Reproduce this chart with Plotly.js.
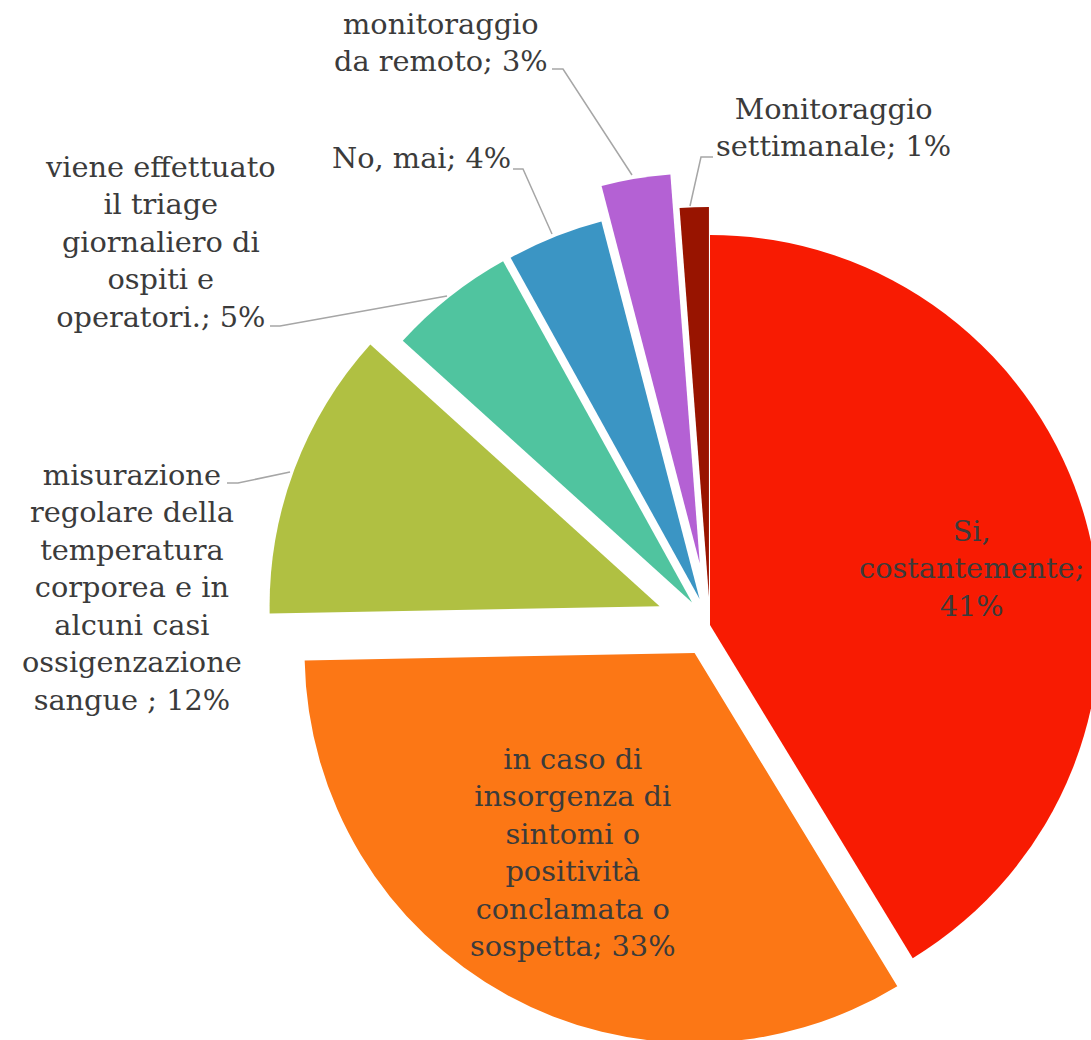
<!DOCTYPE html>
<html>
<head>
<meta charset="utf-8">
<script src="https://cdn.plot.ly/plotly-3.0.1.min.js"></script>
<style>
  html, body { margin: 0; padding: 0; overflow: hidden; background: #ffffff; }
  #chart { width: 1200px; height: 1100px; }
</style>
</head>
<body>
<div id="chart"></div>
<script>
// ---- data ----
const categories = [
  'Si, costantemente',
  'in caso di insorgenza di sintomi o positività conclamata o sospetta',
  'misurazione regolare della temperatura corporea e in alcuni casi ossigenzazione sangue ',
  'viene effettuato il triage giornaliero di ospiti e operatori.',
  'No, mai',
  'monitoraggio da remoto',
  'Monitoraggio settimanale'
];
const values = [41.3, 33.4, 12.0, 5.25, 4.0, 2.85, 1.2];
// wrapped label lines (same text as categories, split where the chart breaks lines)
const labelLines = [
  ['Si,', 'costantemente;'],
  ['in caso di', 'insorgenza di', 'sintomi o', 'positività', 'conclamata o', 'sospetta;'],
  ['misurazione', 'regolare della', 'temperatura', 'corporea e in', 'alcuni casi', 'ossigenzazione', 'sangue ;'],
  ['viene effettuato', 'il triage', 'giornaliero di', 'ospiti e', 'operatori.;'],
  ['No, mai;'],
  ['monitoraggio', 'da remoto;'],
  ['Monitoraggio', 'settimanale;']
];
const colors = ['#F81B02', '#FC7715', '#B0C042', '#50C49F', '#3B95C4', '#B461D4', '#981400'];

// ---- layout / style ----
const W = 1200, H = 1100;
const pulls = [0, 0.082, 0.138, 0.074, 0.072, 0.16, 0.072];
// label centre positions (pixels)
const labelPos = [[971, 569], [573, 852], [132, 587], [160, 242], [421, 158], [441, 42], [833, 128]];
// percent on its own line (true) or appended to the last line (false)
const pctOnNewLine = [true, false, false, false, false, false, false];
// leader lines (pixels), null for inside labels
const leaders = [
  null, null,
  [[227, 483], [238, 483], [290, 472]],
  [[270, 326], [280, 326], [447, 296]],
  [[513, 169], [523, 169], [552, 234]],
  [[552, 69], [563, 69], [632, 175]],
  [[713, 157], [701, 157], [690, 206]]
];

const px = x => x / W;
const py = y => 1 - y / H;

const total = values.reduce((a, b) => a + b, 0);
const pctText = values.map(v => Math.round(v / total * 100) + '%');

const annotations = labelLines.map((lines, i) => {
  let l = lines.slice();
  if (pctOnNewLine[i]) l.push(pctText[i]);
  else l[l.length - 1] = l[l.length - 1] + ' ' + pctText[i];
  return {
    xref: 'paper', yref: 'paper',
    x: px(labelPos[i][0]), y: py(labelPos[i][1]),
    xanchor: 'center', yanchor: 'middle',
    text: l.join('<br>'),
    showarrow: false,
    align: 'center',
    font: { family: 'DejaVu Serif, serif', size: 28.8, color: '#3B3B3B' }
  };
});

const shapes = leaders.filter(l => l).map(pts => ({
  type: 'path', xref: 'paper', yref: 'paper',
  path: pts.map((p, k) => (k ? 'L' : 'M') + px(p[0]) + ',' + py(p[1])).join(' '),
  line: { color: '#A6A6A6', width: 1.5 }
}));

const trace = {
  type: 'pie',
  labels: categories,
  values: values,
  sort: false,
  direction: 'clockwise',
  rotation: 0,
  pull: pulls,
  marker: { colors: colors, line: { width: 0 } },
  textinfo: 'none',
  hoverinfo: 'skip',
  showlegend: false,
  domain: { x: [257.6 / W, 1162.4 / W], y: [1 - 1077.4 / H, 1 - 172.6 / H] }
};

const layout = {
  width: W, height: H,
  margin: { l: 0, r: 0, t: 0, b: 0 },
  paper_bgcolor: '#ffffff',
  showlegend: false,
  annotations: annotations,
  shapes: shapes
};

Plotly.newPlot('chart', [trace], layout, { staticPlot: true, displayModeBar: false });
</script>
</body>
</html>
